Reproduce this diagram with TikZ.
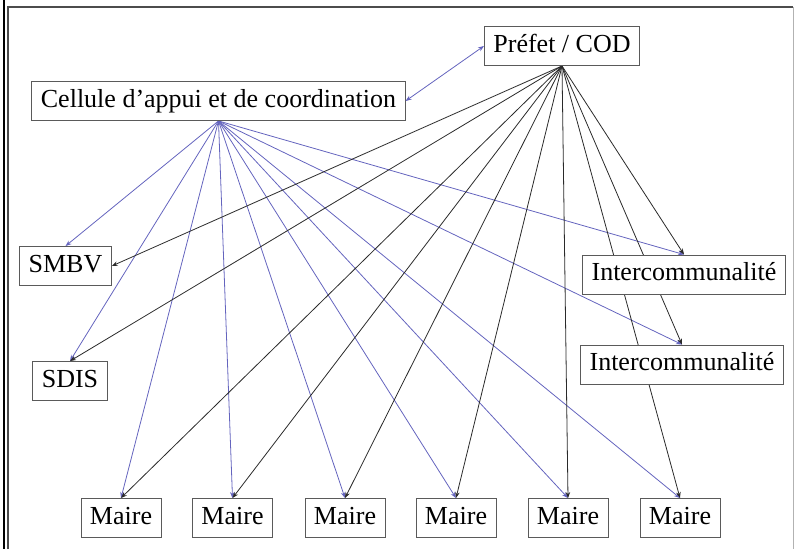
\documentclass[tikz,border=0pt]{standalone}
\usepackage{fontspec}
\setmainfont{Liberation Serif}
\usepackage{tikz}
\usetikzlibrary{arrows.meta,backgrounds}
\definecolor{ink}{HTML}{2A2A2A}
\definecolor{boxline}{HTML}{5A5A5A}
\definecolor{linkblue}{HTML}{6464BE}
\tikzset{
  >={Stealth[length=6pt,width=4.5pt]},
  every node/.style={font=\fontsize{26}{30}\selectfont,text=black},
  unit/.style={draw=boxline,line width=0.9pt,fill=white,inner xsep=9pt,inner ysep=0pt,minimum height=39pt,text height=18pt,text depth=6pt},
  cellarr/.style={->,line width=0.8pt,draw=linkblue},
  prefarr/.style={->,line width=0.8pt,draw=ink},
  twoway/.style={<->,line width=0.8pt,draw=linkblue},
  frame/.style={draw=black!70,line width=1.6pt}
}
\begin{document}
\begin{tikzpicture}[x=1pt,y=-1pt]
  \useasboundingbox (0,0) rectangle (795,549);
  \draw[line width=2pt,black] (3.5,0)--(3.5,549);
  \draw[frame] (8,549)--(8,7)--(793,7);
  \draw[draw=black!30,line width=1pt] (793.5,7)--(793.5,549);

  \node[unit] (prefet) at (562,46) {Préfet / COD};
  \node[unit] (cellule) at (218.5,101) {Cellule d’appui et de coordination};
  \node[unit] (smbv) at (65.5,266) {SMBV};
  \node[unit] (sdis) at (70,381) {SDIS};
  \node[unit] (interA) at (684,274.5) {Intercommunalité};
  \node[unit] (interB) at (682,364.5) {Intercommunalité};

  \node[unit] (maireA) at (121,518) {Maire};
  \node[unit] (maireB) at (232.5,518) {Maire};
  \node[unit] (maireC) at (345,518) {Maire};
  \node[unit] (maireD) at (456,518) {Maire};
  \node[unit] (maireE) at (568,518) {Maire};
  \node[unit] (maireF) at (680,518) {Maire};

  \begin{scope}[on background layer]
    % cellule d'appui
    \draw[cellarr] (cellule.south)--(smbv.north); \draw[cellarr] (cellule.south)--(sdis.north);
    \draw[cellarr] (cellule.south)--(interA.north); \draw[cellarr] (cellule.south)--(interB.north);
    \draw[cellarr] (cellule.south)--(maireA.north); \draw[cellarr] (cellule.south)--(maireB.north);
    \draw[cellarr] (cellule.south)--(maireC.north); \draw[cellarr] (cellule.south)--(maireD.north);
    \draw[cellarr] (cellule.south)--(maireE.north); \draw[cellarr] (cellule.south)--(maireF.north);
    % prefet
    \draw[prefarr] (prefet.south)--(smbv.east); \draw[prefarr] (prefet.south)--(sdis.north);
    \draw[prefarr] (prefet.south)--(interA.north); \draw[prefarr] (prefet.south)--(interB.north);
    \draw[prefarr] (prefet.south)--(maireA.north); \draw[prefarr] (prefet.south)--(maireB.north);
    \draw[prefarr] (prefet.south)--(maireC.north); \draw[prefarr] (prefet.south)--(maireD.north);
    \draw[prefarr] (prefet.south)--(maireE.north); \draw[prefarr] (prefet.south)--(maireF.north);
  \end{scope}
  \draw[twoway] (cellule.east)--(prefet.west);
\end{tikzpicture}
\end{document}
